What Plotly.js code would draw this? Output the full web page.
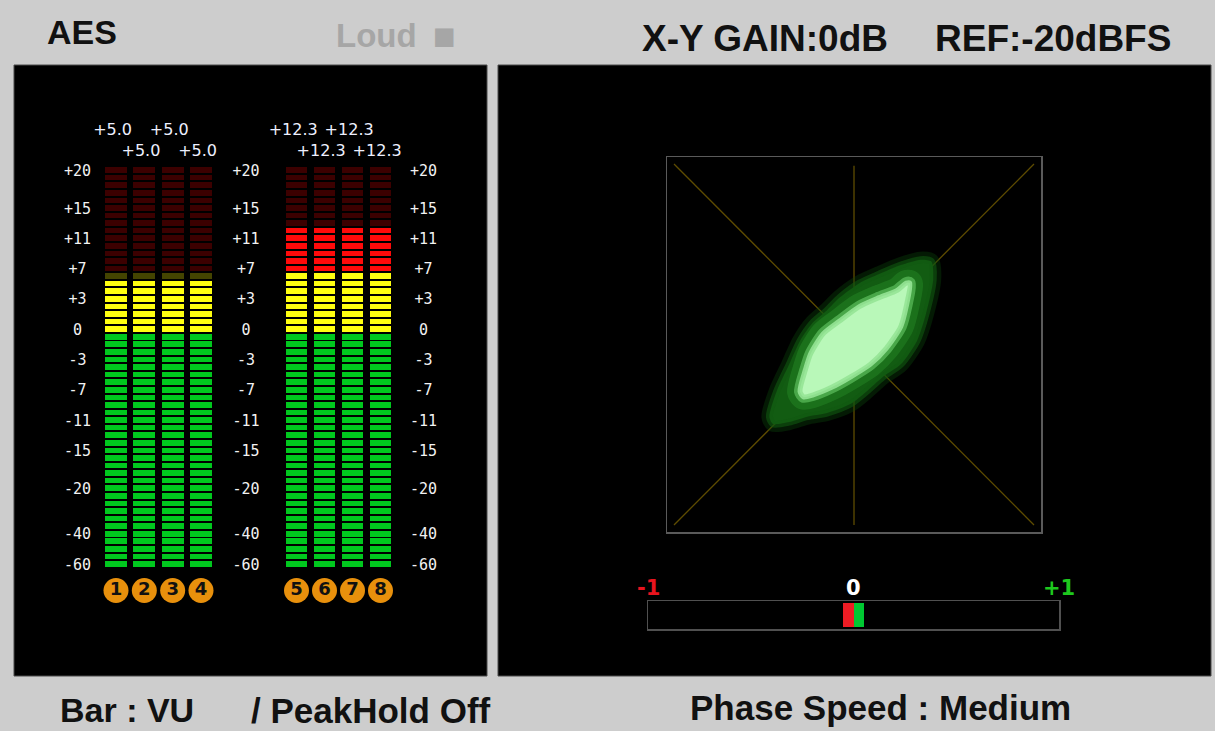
<!DOCTYPE html>
<html><head><meta charset="utf-8">
<script src="https://cdn.plot.ly/plotly-3.0.1.min.js"></script>
<style>html,body{margin:0;padding:0;background:#cdcdcd;}#chart{width:1215px;height:731px;}</style>
</head><body><div id="chart"></div>
<script>
// ---------------- data ----------------
const channelsA = ['1','2','3','4'];
const channelsB = ['5','6','7','8'];
const levelDbA = [5.0, 5.0, 5.0, 5.0];
const levelDbB = [12.3, 12.3, 12.3, 12.3];
const peakDbA = [5.0, 5.0, 5.0, 5.0];
const peakDbB = [12.3, 12.3, 12.3, 12.3];
const scaleLabels = ['-60','-40','-20','-15','-11','-7','-3','0','+3','+7','+11','+15','+20'];
const scaleDb = [-60, -40, -20, -15, -11, -7, -3, 0, 3, 7, 11, 15, 20];
const scaleSegment = [0, 4, 10, 15, 19, 23, 27, 31, 35, 39, 43, 47, 52];
const yellowFromDb = 0;
const redFromDb = 7;
// X-Y scope cloud outlines (scope units, -1..1)
const haloX = [0.43,0.44,0.40,0.35,0.26,0.16,0.07,-0.02,-0.15,-0.26,-0.36,-0.45,-0.47,-0.43,-0.36,-0.30,-0.23,-0.15,-0.08,0.03,0.14,0.26,0.37];
const haloY = [0.46,0.36,0.17,0.02,-0.11,-0.18,-0.26,-0.33,-0.38,-0.40,-0.43,-0.44,-0.40,-0.26,-0.11,0.02,0.12,0.19,0.26,0.34,0.39,0.44,0.47];
const coreX = [0.31,0.29,0.26,0.18,0.09,-0.02,-0.13,-0.23,-0.28,-0.30,-0.27,-0.24,-0.17,-0.08,0.03,0.14,0.24,0.29];
const coreY = [0.34,0.21,0.10,-0.02,-0.11,-0.18,-0.24,-0.28,-0.29,-0.26,-0.14,-0.05,0.06,0.13,0.21,0.26,0.30,0.34];
const phaseValue = 0.0;
const phaseLabels = ['-1','0','+1'];
const phaseTicks = [-1, 0, 1];

// ---------------- helpers ----------------
const W = 1215, H = 731;
const px = v => v / W;
const py = v => 1 - v / H;
function segOf(db){
  for (let i = 0; i < scaleDb.length - 1; i++){
    if (db <= scaleDb[i+1]) return scaleSegment[i] + (db - scaleDb[i]) / (scaleDb[i+1] - scaleDb[i]) * (scaleSegment[i+1] - scaleSegment[i]);
  }
  return scaleSegment[scaleSegment.length - 1];
}
function dbOf(k){
  for (let i = 0; i < scaleSegment.length - 1; i++){
    if (k <= scaleSegment[i+1]) return scaleDb[i] + (k - scaleSegment[i]) / (scaleSegment[i+1] - scaleSegment[i]) * (scaleDb[i+1] - scaleDb[i]);
  }
  return scaleDb[scaleDb.length - 1];
}
const nSeg = scaleSegment[scaleSegment.length - 1] + 1;
const segColors = {
  greenOn:'#00c81e', greenOff:'#003a08',
  yellowOn:'#ffff10', yellowOff:'#444400',
  redOn:'#ff0a0a', redOff:'#3c0000'
};
function meterTraces(levels, xa){
  const groups = {};
  Object.keys(segColors).forEach(k => groups[k] = {x:[], b:[]});
  levels.forEach((lv, ci) => {
    const top = Math.floor(segOf(lv) + 1e-6);
    for (let k = 0; k < nSeg; k++){
      const d = dbOf(k);
      const zone = d >= redFromDb ? 'red' : (d >= yellowFromDb ? 'yellow' : 'green');
      const key = zone + (k <= top ? 'On' : 'Off');
      groups[key].x.push(ci);
      groups[key].b.push(k - 0.37);
    }
  });
  return Object.keys(groups).filter(k => groups[k].x.length).map(key => ({
    type:'bar', x:groups[key].x, y:groups[key].x.map(() => 0.74), base:groups[key].b,
    width:0.78, marker:{color:segColors[key], line:{width:0}},
    xaxis:xa, yaxis:'y', hoverinfo:'skip'
  }));
}
const fmtPeak = v => (v > 0 ? '+' : '') + v.toFixed(1);
const peakRow = i => (i % 2 === 0 ? 57.15 : 54.4);

const traces = [];
traces.push(...meterTraces(levelDbA, 'x'));
traces.push(...meterTraces(levelDbB, 'x2'));

// scale labels (three columns)
const scaleFont = {family:'DejaVu Sans Mono', size:15, color:'#f2f2f2'};
[['x', -1.36], ['x', 4.588], ['x2', 4.536]].forEach(([xa, col]) => {
  traces.push({type:'scatter', mode:'text', x:scaleSegment.map(() => col), y:scaleSegment.map(s => s - 0.25),
    text:scaleLabels, textposition:'middle center', textfont:scaleFont,
    xaxis:xa, yaxis:'y', hoverinfo:'skip', cliponaxis:false});
});
// peak readouts
[[peakDbA, 'x'], [peakDbB, 'x2']].forEach(([pk, xa]) => {
  traces.push({type:'scatter', mode:'text', x:pk.map((_, i) => i - 0.12), y:pk.map((_, i) => peakRow(i)),
    text:pk.map(fmtPeak), textposition:'middle center',
    textfont:{family:'DejaVu Sans', size:16, color:'#eef0ff'},
    xaxis:xa, yaxis:'y', hoverinfo:'skip', cliponaxis:false});
});
// channel badges
[[channelsA, 'x'], [channelsB, 'x2']].forEach(([ch, xa]) => {
  traces.push({type:'scatter', mode:'markers+text', x:ch.map((_, i) => i), y:ch.map(() => -3.5),
    text:ch, textposition:'middle center',
    marker:{symbol:'circle', size:25, color:'#e8900c', line:{width:0}},
    textfont:{family:'DejaVu Sans', size:18, color:'#111', weight:'bold'},
    xaxis:xa, yaxis:'y', hoverinfo:'skip', cliponaxis:false});
});

// X-Y scope cloud (layered to give a soft glow)
const closeX = a => a.concat([a[0]]);
const cloudLayer = (xs, ys, lineColor, lineWidth, fill) => ({
  type:'scatter', mode:'lines', x:closeX(xs), y:closeX(ys),
  line:{shape:'spline', smoothing:0.7, color:lineColor, width:lineWidth},
  fill:fill ? 'toself' : 'none', fillcolor:fill || 'rgba(0,0,0,0)',
  xaxis:'x3', yaxis:'y3', hoverinfo:'skip'
});
traces.push(cloudLayer(haloX, haloY, 'rgba(12,75,12,0.35)', 16, null));
traces.push(cloudLayer(haloX, haloY, 'rgba(16,88,16,0.6)', 7, 'rgb(18,92,18)'));
traces.push(cloudLayer(coreX, coreY, 'rgba(40,140,40,0.45)', 26, null));
traces.push(cloudLayer(coreX, coreY, 'rgba(90,185,90,0.75)', 12, null));
traces.push(cloudLayer(coreX, coreY, 'rgba(150,228,150,0.9)', 5, 'rgb(185,248,185)'));

// phase correlation marker
const phaseHalf = 0.0535;
traces.push({type:'bar', orientation:'h', y:[0.5], x:[phaseHalf], base:[phaseValue - phaseHalf], width:0.86,
  marker:{color:'#ee1c24', line:{width:0}}, xaxis:'x4', yaxis:'y4', hoverinfo:'skip'});
traces.push({type:'bar', orientation:'h', y:[0.5], x:[phaseHalf], base:[phaseValue], width:0.86,
  marker:{color:'#00c832', line:{width:0}}, xaxis:'x4', yaxis:'y4', hoverinfo:'skip'});
const phaseColors = ['#e8141e', '#ffffff', '#1ec81e'];

// ---------------- layout ----------------
const hidden = {visible:false, fixedrange:true};
const guide = '#5e4c00';
const boxAxis = (extra) => Object.assign({showline:true, mirror:true, showgrid:false, zeroline:false,
  showticklabels:false, ticks:'', fixedrange:true}, extra);
const annotations = [
  {text:'AES', xref:'paper', yref:'paper', x:px(45), y:py(32), xanchor:'left', yanchor:'middle', showarrow:false,
    font:{family:'Liberation Sans', size:34, weight:'bold', color:'#111'}},
  {text:'Loud', xref:'paper', yref:'paper', x:px(334), y:py(36), xanchor:'left', yanchor:'middle', showarrow:false,
    font:{family:'Liberation Sans', size:33, weight:'bold', color:'#a6a6a6'}},
  {text:'■', xref:'paper', yref:'paper', x:px(444), y:py(36), xanchor:'center', yanchor:'middle', showarrow:false,
    font:{family:'DejaVu Sans', size:24, color:'#a6a6a6'}},
  {text:'X-Y GAIN:0dB', xref:'paper', yref:'paper', x:px(640), y:py(38), xanchor:'left', yanchor:'middle', showarrow:false,
    font:{family:'Liberation Sans', size:37, weight:'bold', color:'#111'}},
  {text:'REF:-20dBFS', xref:'paper', yref:'paper', x:px(933), y:py(38), xanchor:'left', yanchor:'middle', showarrow:false,
    font:{family:'Liberation Sans', size:37, weight:'bold', color:'#111'}},
  {text:'Bar : VU', xref:'paper', yref:'paper', x:px(58), y:py(710), xanchor:'left', yanchor:'middle', showarrow:false,
    font:{family:'Liberation Sans', size:34, weight:'bold', color:'#111'}},
  {text:'/ PeakHold Off', xref:'paper', yref:'paper', x:px(249), y:py(710), xanchor:'left', yanchor:'middle', showarrow:false,
    font:{family:'Liberation Sans', size:35, weight:'bold', color:'#111'}},
  {text:'Phase Speed : Medium', xref:'paper', yref:'paper', x:px(688), y:py(707), xanchor:'left', yanchor:'middle', showarrow:false,
    font:{family:'Liberation Sans', size:35, weight:'bold', color:'#111'}},
  {text:'1', xref:'x3', yref:'paper', x:-1.178, y:py(132), xanchor:'center', yanchor:'middle', showarrow:false,
    font:{family:'DejaVu Sans', size:26, weight:'bold', color:'#ffffff'}},
  {text:'2', xref:'x3', yref:'paper', x:1.178, y:py(132), xanchor:'center', yanchor:'middle', showarrow:false,
    font:{family:'DejaVu Sans', size:26, weight:'bold', color:'#ffffff'}}
];
phaseTicks.forEach((t, i) => annotations.push({text:phaseLabels[i], xref:'x4', yref:'paper', x:t, y:py(588),
  xanchor:'center', yanchor:'middle', showarrow:false,
  font:{family:'DejaVu Sans', size:21, weight:'bold', color:phaseColors[i]}}));

const layout = {
  width:W, height:H, margin:{l:0, r:0, t:0, b:0},
  paper_bgcolor:'#cdcdcd', plot_bgcolor:'rgba(0,0,0,0)',
  showlegend:false, barmode:'overlay', bargap:0,
  xaxis:Object.assign({domain:[px(14), px(272)], range:[-3.6, 5.5065], anchor:'y'}, hidden),
  xaxis2:Object.assign({domain:[px(272), px(487)], range:[-0.875, 6.8036], anchor:'y'}, hidden),
  yaxis:Object.assign({domain:[py(676), py(66)], range:[-14.78, 65.73], anchor:'x'}, hidden),
  xaxis3:boxAxis({domain:[px(667), px(1041)], range:[-1.0389, 1.0389], anchor:'y3', linecolor:'#5a5a5a', linewidth:1.5}),
  yaxis3:boxAxis({domain:[py(532), py(157)], range:[-1.0389, 1.0389], anchor:'x3', linecolor:'#5a5a5a', linewidth:1.5}),
  xaxis4:boxAxis({domain:[px(648), px(1059)], range:[-1, 1], anchor:'y4', linecolor:'#505050', linewidth:1.5}),
  yaxis4:boxAxis({domain:[py(629), py(601)], range:[0, 1], anchor:'x4', linecolor:'#505050', linewidth:1.5}),
  shapes:[
    {type:'rect', xref:'paper', yref:'paper', x0:px(14), x1:px(487), y0:py(676), y1:py(65), layer:'below',
      fillcolor:'#000', line:{color:'#4a4a4a', width:1}},
    {type:'rect', xref:'paper', yref:'paper', x0:px(498), x1:px(1211), y0:py(676), y1:py(65), layer:'below',
      fillcolor:'#000', line:{color:'#4a4a4a', width:1}},
    {type:'line', xref:'x3', yref:'y3', x0:-1, y0:1, x1:1, y1:-1, layer:'below', line:{color:guide, width:1.3}},
    {type:'line', xref:'x3', yref:'y3', x0:-1, y0:-1, x1:1, y1:1, layer:'below', line:{color:guide, width:1.3}},
    {type:'line', xref:'x3', yref:'y3', x0:0, y0:0.99, x1:0, y1:-1, layer:'below', line:{color:guide, width:1.3}}
  ],
  annotations:annotations
};
Plotly.newPlot('chart', traces, layout, {displayModeBar:false, staticPlot:true});
</script></body></html>
